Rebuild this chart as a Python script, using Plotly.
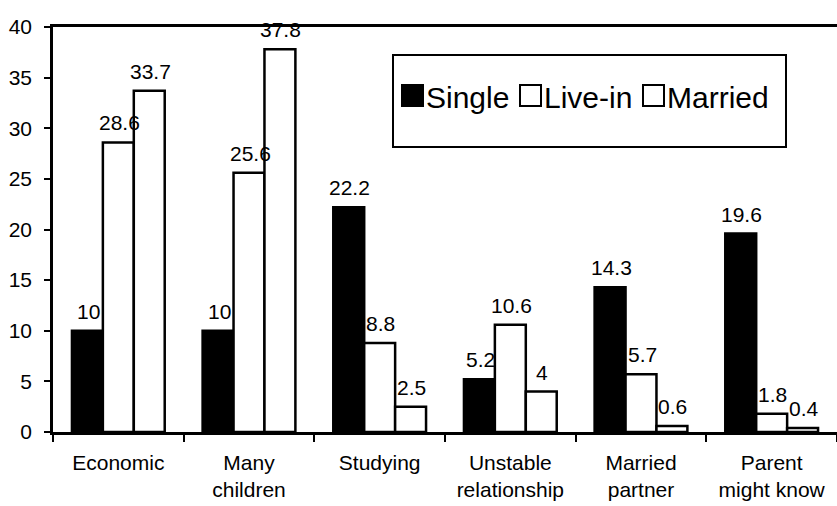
import plotly.graph_objects as go

categories = ["Economic", "Many<br>children", "Studying", "Unstable<br>relationship",
              "Married<br>partner", "Parent<br>might know"]
single = [10, 10, 22.2, 5.2, 14.3, 19.6]
live_in = [28.6, 25.6, 8.8, 10.6, 5.7, 1.8]
married = [33.7, 37.8, 2.5, 4, 0.6, 0.4]
y_ticks = [0, 5, 10, 15, 20, 25, 30, 35, 40]

series = [("Single", single, "black"), ("Live-in", live_in, "white"), ("Married", married, "white")]

W, H = 837, 506
M = dict(l=53, r=0, t=27, b=74)
BARGAP = 0.29
FONT = "Liberation Sans, Arial, sans-serif"

plot_w = W - M["l"] - M["r"]
plot_h = H - M["t"] - M["b"]


def px(x):
    return (x - M["l"]) / plot_w


def py(y):
    return (H - M["b"] - y) / plot_h


fig = go.Figure()
for name, vals, fill in series:
    fig.add_trace(go.Bar(
        x=categories, y=vals, name=name,
        marker=dict(color=fill, line=dict(color="black", width=2.5)),
        showlegend=False,
    ))

# value labels above each bar
bar_px = plot_w / len(categories) * (1 - BARGAP) / len(series)
annotations = []
shapes = []
for i, (name, vals, fill) in enumerate(series):
    for cat, v in zip(categories, vals):
        annotations.append(dict(
            x=cat, y=v, xref="x", yref="y", text=str(v), showarrow=False,
            xanchor="center", yanchor="bottom", xshift=(i - 1) * bar_px + 1, yshift=6,
            font=dict(family=FONT, size=21, color="black"),
        ))

# boxed legend in the upper right: square swatch followed by its name
shapes.append(dict(type="rect", xref="paper", yref="paper",
                   x0=px(393), x1=px(786), y0=py(147), y1=py(55),
                   line=dict(color="black", width=2), fillcolor="rgba(0,0,0,0)"))
legend_x = [402, 520, 643]
for (name, vals, fill), lx in zip(series, legend_x):
    shapes.append(dict(type="rect", xref="paper", yref="paper",
                       x0=px(lx), x1=px(lx + 21), y0=py(106), y1=py(85),
                       line=dict(color="black", width=2), fillcolor=fill))
    annotations.append(dict(
        x=px(lx + 22), y=py(97), xref="paper", yref="paper", xanchor="left", yanchor="middle",
        text=name, showarrow=False, font=dict(family=FONT, size=30, color="black"),
    ))

fig.update_layout(
    width=W, height=H, margin=M,
    paper_bgcolor="white", plot_bgcolor="white",
    barmode="group", bargap=BARGAP, bargroupgap=0,
    font=dict(family=FONT, color="black"),
    annotations=annotations, shapes=shapes,
    xaxis=dict(type="category", showline=True, linecolor="black", linewidth=2.5, mirror=True,
               ticks="outside", tickson="boundaries", ticklen=7, tickwidth=2, tickcolor="black",
               ticklabelstandoff=10, showgrid=False, tickfont=dict(size=21)),
    yaxis=dict(range=[0, 40], tickvals=y_ticks, showline=True, linecolor="black", linewidth=2.5,
               ticks="outside", ticklen=6, tickwidth=2, tickcolor="black", ticklabelstandoff=8,
               showgrid=False, zeroline=False, tickfont=dict(size=21)),
)

fig.write_html("out.html")
